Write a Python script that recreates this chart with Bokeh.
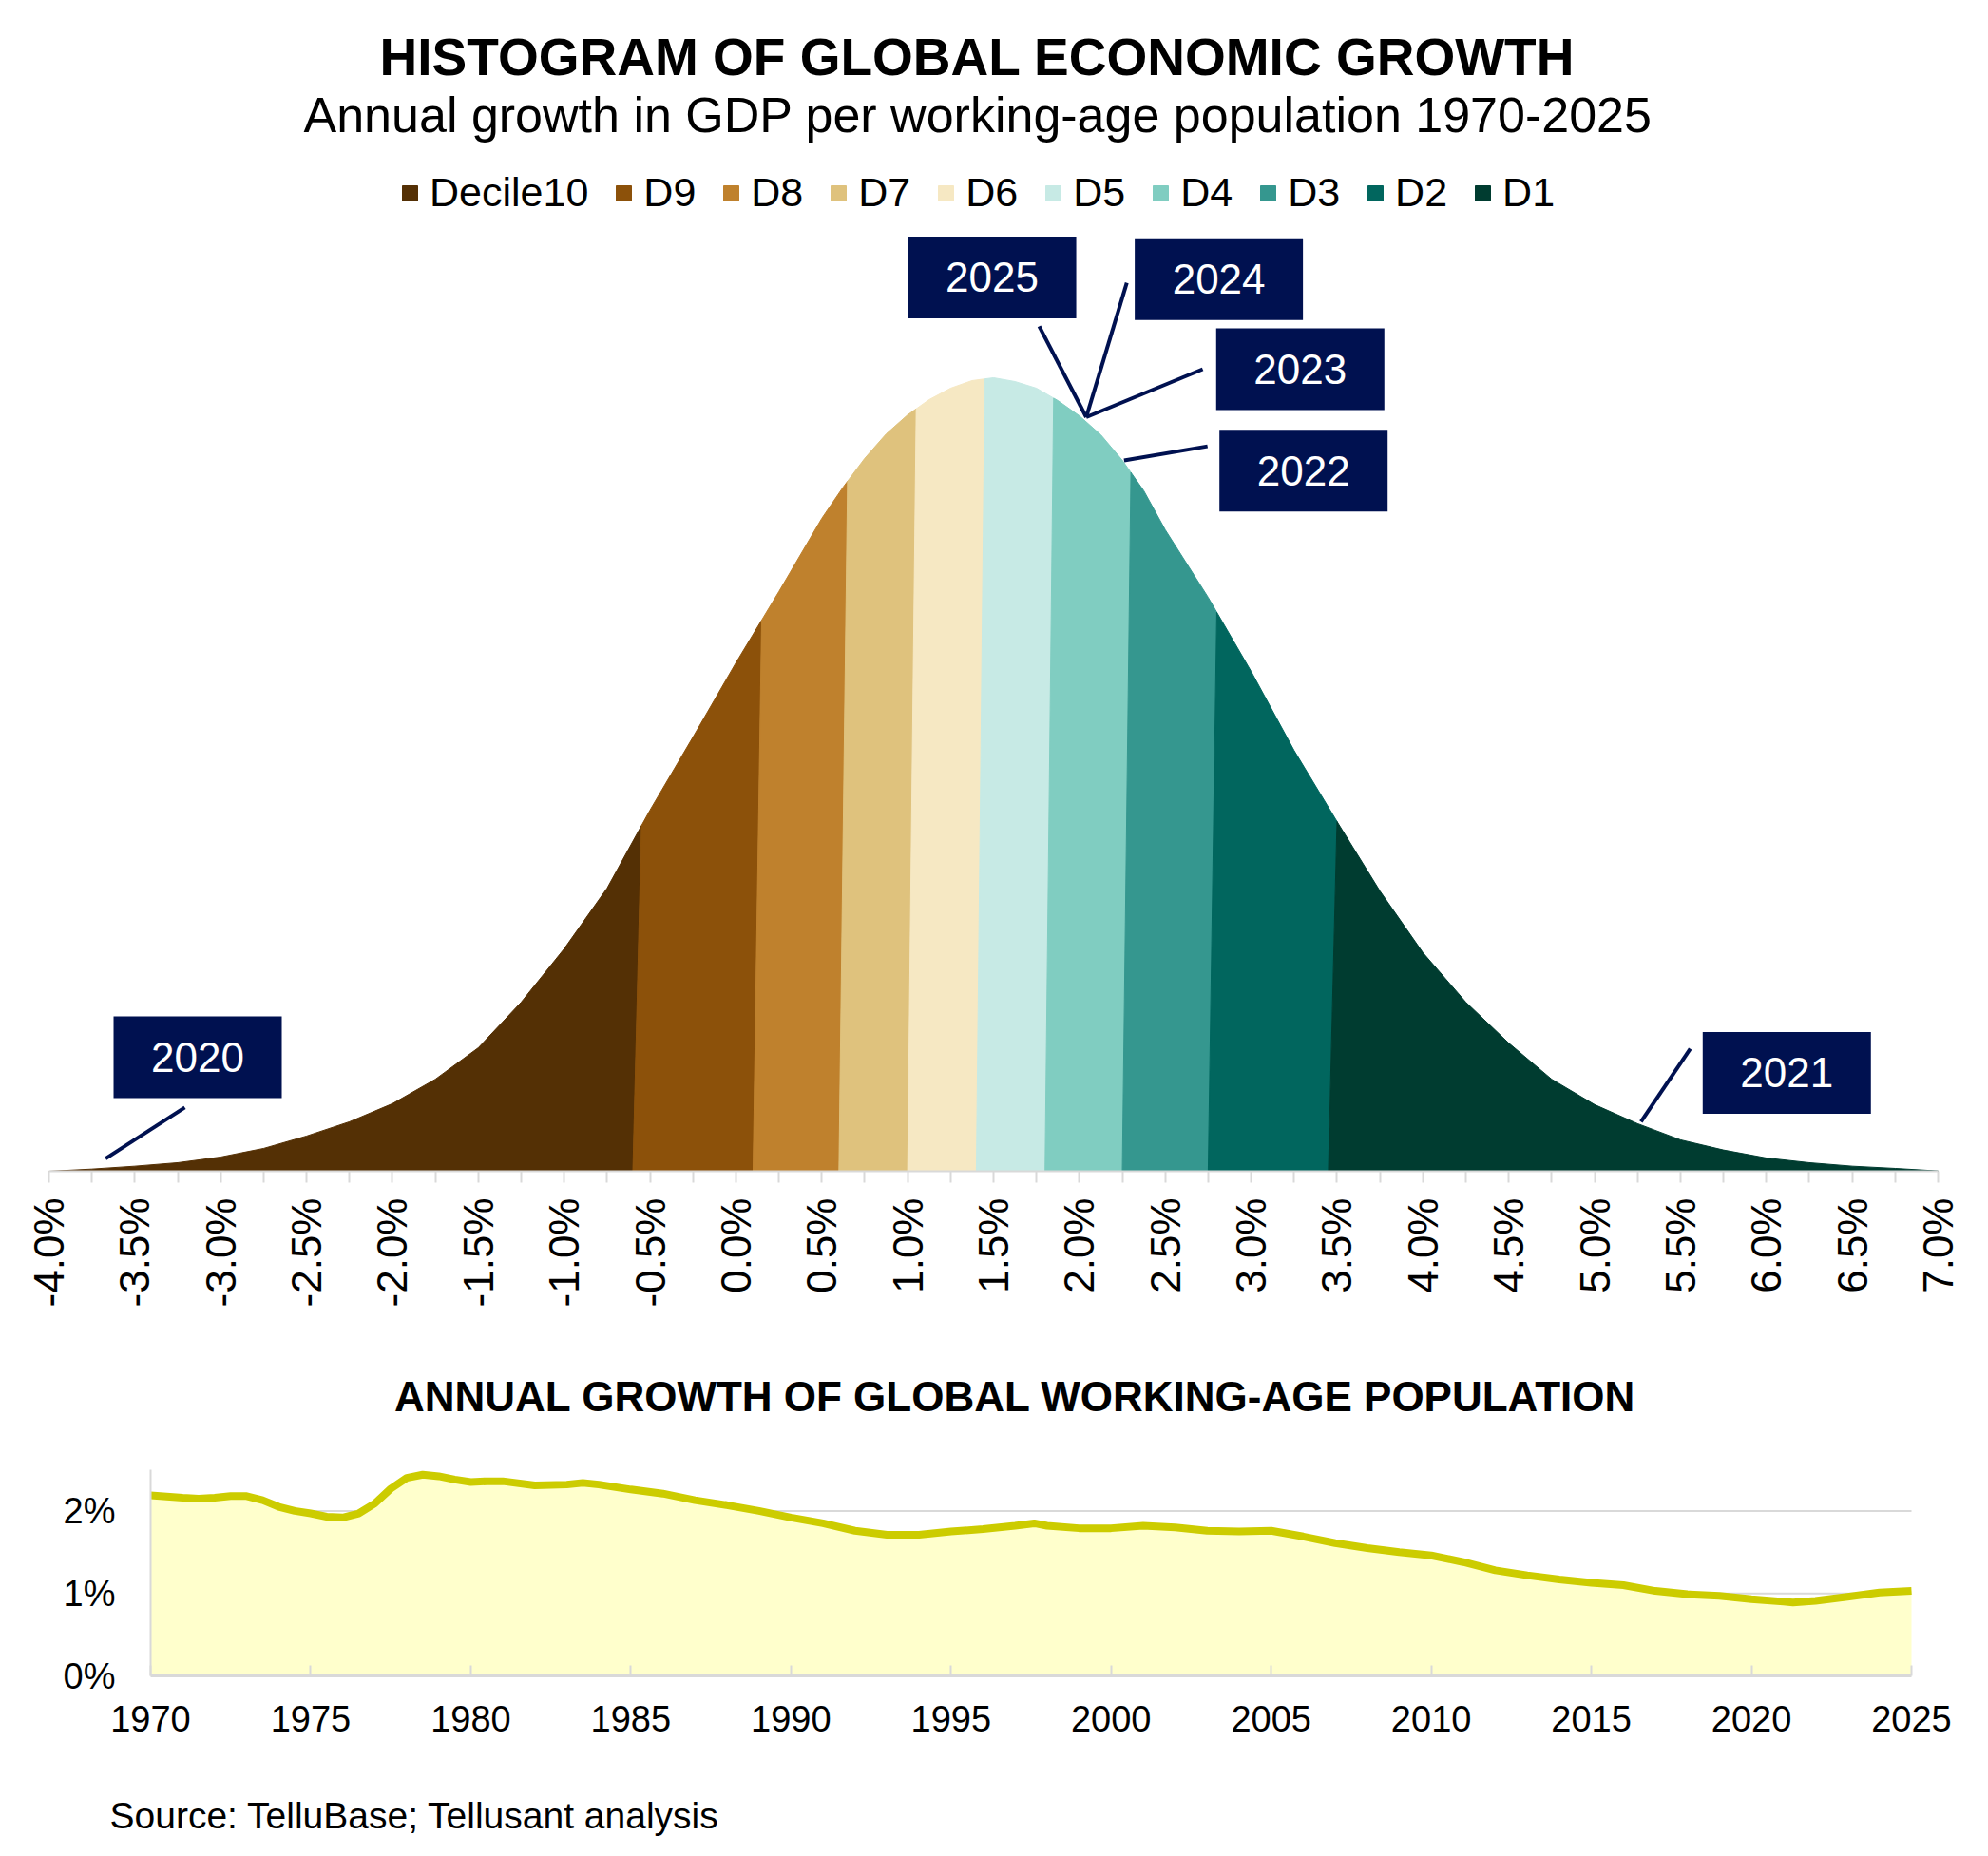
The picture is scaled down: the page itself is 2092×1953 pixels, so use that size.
import numpy as np
from bokeh.plotting import figure
from bokeh.models import (ColumnDataSource, Legend, LegendItem, Label, FixedTicker,
                          PrintfTickFormatter, Range1d, LinearAxis)
from bokeh.layouts import column
from bokeh.embed import file_html
from bokeh.resources import INLINE
from bokeh.core.properties import value

FONT = "Liberation Sans"
NAVY = "#001150"
GREY = "#D9D9D9"

# ---------------- data: histogram of global GDP-per-working-age growth ----------------
growth_grid = [-4.0, -3.75, -3.5, -3.25, -3.0, -2.75, -2.5, -2.25, -2.0, -1.75,
               -1.5, -1.25, -1.0, -0.75, -0.5, -0.25, 0.0, 0.25, 0.5, 0.625,
               0.75, 0.875, 1.0, 1.125, 1.25, 1.375, 1.5, 1.625, 1.75, 1.875,
               2.0, 2.125, 2.25, 2.375, 2.5, 2.75, 3.0, 3.25, 3.5, 3.75,
               4.0, 4.25, 4.5, 4.75, 5.0, 5.25, 5.5, 5.75, 6.0, 6.25,
               6.5, 6.75, 7.0]
growth_density = [0.0, 0.0007, 0.0016, 0.0027, 0.0045, 0.0072, 0.0111, 0.0156, 0.0213, 0.0290,
                  0.0389, 0.0533, 0.0701, 0.0892, 0.1138, 0.1368, 0.1602, 0.1826, 0.2057, 0.2156,
                  0.2246, 0.2323, 0.2383, 0.2431, 0.2467, 0.2491, 0.2500, 0.2488, 0.2467, 0.2428,
                  0.2380, 0.2320, 0.2240, 0.2144, 0.2021, 0.1808, 0.1575, 0.1326, 0.1102, 0.0883,
                  0.0689, 0.0533, 0.0404, 0.0290, 0.0210, 0.0150, 0.0099, 0.0067, 0.0042, 0.0027,
                  0.0016, 0.0009, 0.0001]
bin_width = 0.05

decile_names = ["Decile10", "D9", "D8", "D7", "D6", "D5", "D4", "D3", "D2", "D1"]
decile_colors = ["#543005", "#8C510A", "#BF812D", "#DFC27D", "#F6E8C3",
                 "#C7EAE5", "#80CDC1", "#35978F", "#01665E", "#003C30"]
decile_bounds = [-0.60, 0.10, 0.60, 1.00, 1.40, 1.80, 2.25, 2.75, 3.45]

x_tick_values = [-4.0, -3.5, -3.0, -2.5, -2.0, -1.5, -1.0, -0.5, 0.0, 0.5, 1.0, 1.5,
                 2.0, 2.5, 3.0, 3.5, 4.0, 4.5, 5.0, 5.5, 6.0, 6.5, 7.0]

callout_years = ["2025", "2024", "2023", "2022", "2020", "2021"]
callout_growth = [2.04, 2.04, 2.04, 2.26, -3.67, 5.27]

# callout layout (box centres and leader starts, in chart coordinates)
callout_box_x = [1.492, 2.812, 3.286, 3.305, -3.134, 6.119]
callout_box_y = [0.2816, 0.2811, 0.2527, 0.2207, 0.0359, 0.0310]
callout_lead_x = [1.766, 2.276, 2.718, 2.746, -3.209, 5.557]
callout_lead_y = [0.2662, 0.2799, 0.2527, 0.2284, 0.0201, 0.0386]
callout_lift = [0.0015, 0.0015, 0.0015, 0.0007, 0.0030, 0.0010]

# ---------------- data: working-age population growth ----------------
pop_years = [1970, 1971, 1971.5, 1972, 1972.5, 1973, 1973.5, 1974, 1974.5, 1975,
             1975.5, 1976, 1976.5, 1977, 1977.5, 1978, 1978.5, 1979, 1979.5, 1980,
             1980.5, 1981, 1982, 1983, 1983.5, 1984, 1985, 1986, 1987, 1988,
             1989, 1990, 1991, 1992, 1993, 1994, 1995, 1996, 1997, 1997.6,
             1998, 1999, 2000, 2001, 2002, 2003, 2004, 2005, 2006, 2007,
             2008, 2009, 2010, 2011, 2012, 2013, 2014, 2015, 2016, 2017,
             2018, 2019, 2020, 2021, 2021.3, 2022, 2023, 2024, 2025]
pop_growth = [2.19, 2.16, 2.15, 2.16, 2.18, 2.18, 2.13, 2.05, 2.00, 1.97,
              1.93, 1.92, 1.97, 2.09, 2.27, 2.40, 2.44, 2.42, 2.38, 2.35,
              2.36, 2.36, 2.31, 2.32, 2.34, 2.32, 2.26, 2.21, 2.13, 2.07,
              2.00, 1.92, 1.85, 1.76, 1.71, 1.71, 1.75, 1.78, 1.82, 1.85,
              1.82, 1.79, 1.79, 1.82, 1.80, 1.76, 1.75, 1.76, 1.69, 1.61,
              1.55, 1.50, 1.46, 1.38, 1.28, 1.22, 1.17, 1.13, 1.10, 1.03,
              0.99, 0.97, 0.93, 0.90, 0.89, 0.91, 0.96, 1.01, 1.03]
year_ticks = [1970, 1975, 1980, 1985, 1990, 1995, 2000, 2005, 2010, 2015, 2020, 2025]
pct_ticks = [0, 1, 2]
pop_x_bounds = (1970, 2025)
pop_y_bounds = (0, 2.5)
growth_x_bounds = (-4.0, 7.0)

# common horizontal geometry (both figures share it, so column alignment is harmless)
BORDER_L, BORDER_R = 51, 10
FRAME_W = 2092 - BORDER_L - BORDER_R
FRAME_RIGHT = BORDER_L + FRAME_W


def base_dy(fs):
    # shift that places the alphabetic baseline where it is wanted
    return 0.35 * fs


# =============================== top chart ===============================
FRAME_H = 1232
PX_PER_UNIT = 3340.0
X_M4, X_P7 = 51, 2039
ppx = (X_P7 - X_M4) / 11.0
p = figure(frame_width=FRAME_W, frame_height=FRAME_H,
           x_range=Range1d(-4.0, 7.0 + (FRAME_RIGHT - X_P7) / ppx),
           y_range=Range1d(0, FRAME_H / PX_PER_UNIT),
           min_border_left=BORDER_L, min_border_right=BORDER_R, min_border_top=0,
           min_border_bottom=150, y_axis_location=None, output_backend="svg",
           toolbar_location=None, outline_line_color=None,
           background_fill_color="white", border_fill_color="white")
p.grid.visible = False

gx = np.array(growth_grid)
gy = np.array(growth_density)


def h(x):
    return float(np.interp(x, gx, gy))


edges = [growth_grid[0]] + decile_bounds + [growth_grid[-1]]
items = []
for i, (name, col) in enumerate(zip(decile_names, decile_colors)):
    lo, hi = edges[i], edges[i + 1]
    if i == 0:
        xs, ys = [lo], [0.0]
        start = lo
    else:
        xs, ys = [lo, lo + bin_width], [0.0, h(lo + bin_width)]
        start = lo + bin_width
    end = hi + bin_width if i < 9 else hi
    inner = [x for x in growth_grid if start + 1e-9 < x < end - 1e-9]
    xs += inner
    ys += [h(x) for x in inner]
    xs += [end, hi]
    ys += [h(end), 0.0]
    r = p.patch(xs, ys, fill_color=col, line_color=col, line_width=1)
    items.append(LegendItem(label=name, renderers=[r]))

legend = Legend(items=items, orientation="horizontal", location=(370, 1005),
                glyph_width=20, glyph_height=20, label_standoff=11, spacing=27,
                padding=0, margin=0, background_fill_alpha=0, border_line_alpha=0,
                label_text_font=FONT, label_text_font_size="43px", label_text_color="black")
p.add_layout(legend)

# callouts
end_y = [h(g) + lift for g, lift in zip(callout_growth, callout_lift)]
csrc = ColumnDataSource(dict(bx=callout_box_x, by=callout_box_y, lx=callout_lead_x,
                             ly=callout_lead_y, gx=callout_growth, gy=end_y, t=callout_years))
p.segment(x0="lx", y0="ly", x1="gx", y1="gy", source=csrc, line_color=NAVY, line_width=4)
p.rect(x="bx", y="by", width=177, height=86, width_units="screen", height_units="screen",
       source=csrc, fill_color=NAVY, line_color=None)
p.text(x="bx", y="by", text="t", source=csrc, text_align="center", text_baseline="middle",
       text_font=value(FONT), text_font_size="44px", text_color="white")

# header texts (screen offsets from the frame's bottom-left corner)
p.add_layout(Label(x=977, y=FRAME_H - 78.3 + base_dy(55), x_units="screen", y_units="screen",
                   text="HISTOGRAM OF GLOBAL ECONOMIC GROWTH", text_align="center",
                   text_baseline="alphabetic", text_font=FONT, text_font_size="55px",
                   text_font_style="bold", text_color="black"))
p.add_layout(Label(x=977.7, y=FRAME_H - 138.3 + base_dy(52), x_units="screen", y_units="screen",
                   text="Annual growth in GDP per working-age population 1970-2025",
                   text_align="center", text_baseline="alphabetic", text_font=FONT,
                   text_font_size="52px", text_color="black"))

ax = p.xaxis[0]
ax.bounds = growth_x_bounds
ax.ticker = FixedTicker(ticks=x_tick_values,
                        minor_ticks=[(a + b) / 2 for a, b in zip(x_tick_values[:-1], x_tick_values[1:])])
ax.formatter = PrintfTickFormatter(format="%.1f%%")
ax.major_label_orientation = np.pi / 2
ax.major_label_text_font = FONT
ax.major_label_text_font_size = "44px"
ax.major_label_text_color = "black"
ax.major_label_standoff = 16
ax.axis_line_color = GREY
ax.axis_line_width = 2
ax.major_tick_line_color = GREY
ax.minor_tick_line_color = GREY
ax.major_tick_line_width = 2
ax.minor_tick_line_width = 2
ax.major_tick_in = 0
ax.minor_tick_in = 0
ax.major_tick_out = 12
ax.minor_tick_out = 12

# ============================ bottom chart ============================
# frame covers the whole lower figure; axes are pinned to 1970 / 0% and bounded
P2_TOP, P2_H = 1382, 568          # page rows covered by the lower figure
ZERO_ROW, TOP_ROW = 1763, 1546     # rows of 0% and 2.5%
X1970, X2025 = 158, 2011           # columns of 1970 and 2025
ppy = (X2025 - X1970) / 55.0
ppu = (ZERO_ROW - TOP_ROW) / 2.5
xr = Range1d(1970 - (X1970 - BORDER_L) / ppy, 2025 + (FRAME_RIGHT - X2025) / ppy)
yr = Range1d(-(P2_TOP + P2_H - ZERO_ROW) / ppu, (ZERO_ROW - P2_TOP) / ppu)

p2 = figure(frame_width=FRAME_W, frame_height=P2_H, x_range=xr, y_range=yr,
            min_border_left=BORDER_L, min_border_right=BORDER_R, min_border_top=0,
            min_border_bottom=0, x_axis_location=None, y_axis_location=None,
            output_backend="svg", toolbar_location=None, outline_line_color=None,
            background_fill_color="white", border_fill_color="white")
p2.grid.visible = False

# horizontal gridlines at the non-zero percentage ticks, spanning 1970-2025
grid_levels = [t for t in pct_ticks if t > 0]
p2.segment(x0=[pop_x_bounds[0]] * len(grid_levels), y0=grid_levels,
           x1=[pop_x_bounds[1]] * len(grid_levels), y1=grid_levels,
           line_color=GREY, line_width=2)

psrc = ColumnDataSource(dict(year=pop_years, growth=pop_growth))
p2.varea(x="year", y1=0, y2="growth", source=psrc, fill_color="#FFFFCC")
p2.line(x="year", y="growth", source=psrc, line_color="#CCCC00", line_width=8, line_join="round")

xaxis2 = LinearAxis(fixed_location=0, bounds=pop_x_bounds,
                    ticker=FixedTicker(ticks=year_ticks))
xaxis2.major_label_text_font = FONT
xaxis2.major_label_text_font_size = "38px"
xaxis2.major_label_text_color = "black"
xaxis2.major_label_standoff = 31
xaxis2.axis_line_color = GREY
xaxis2.axis_line_width = 3
xaxis2.major_tick_line_color = GREY
xaxis2.major_tick_line_width = 2
xaxis2.major_tick_in = 11
xaxis2.major_tick_out = 0
xaxis2.minor_tick_line_color = None
p2.add_layout(xaxis2, "below")

yaxis2 = LinearAxis(fixed_location=1970, bounds=pop_y_bounds,
                    ticker=FixedTicker(ticks=pct_ticks),
                    formatter=PrintfTickFormatter(format="%d%%"))
yaxis2.major_label_text_font = FONT
yaxis2.major_label_text_font_size = "38px"
yaxis2.major_label_text_color = "black"
yaxis2.major_label_standoff = 31
yaxis2.axis_line_color = GREY
yaxis2.axis_line_width = 2
yaxis2.major_tick_line_color = None
yaxis2.minor_tick_line_color = None
p2.add_layout(yaxis2, "left")

P2_BOTTOM = P2_TOP + P2_H
p2.add_layout(Label(x=1016.9, y=P2_BOTTOM - 1484.6 + base_dy(44), x_units="screen", y_units="screen",
                    text="ANNUAL GROWTH OF GLOBAL WORKING-AGE POPULATION", text_align="center",
                    text_baseline="alphabetic", text_font=FONT, text_font_size="44px",
                    text_font_style="bold", text_color="black"))
p2.add_layout(Label(x=64, y=P2_BOTTOM - 1924 + base_dy(39), x_units="screen", y_units="screen",
                    text="Source: TelluBase; Tellusant analysis", text_align="left",
                    text_baseline="alphabetic", text_font=FONT, text_font_size="39px",
                    text_color="black"))

layout = column(p, p2)
open("out.html", "w").write(file_html(layout, INLINE))
